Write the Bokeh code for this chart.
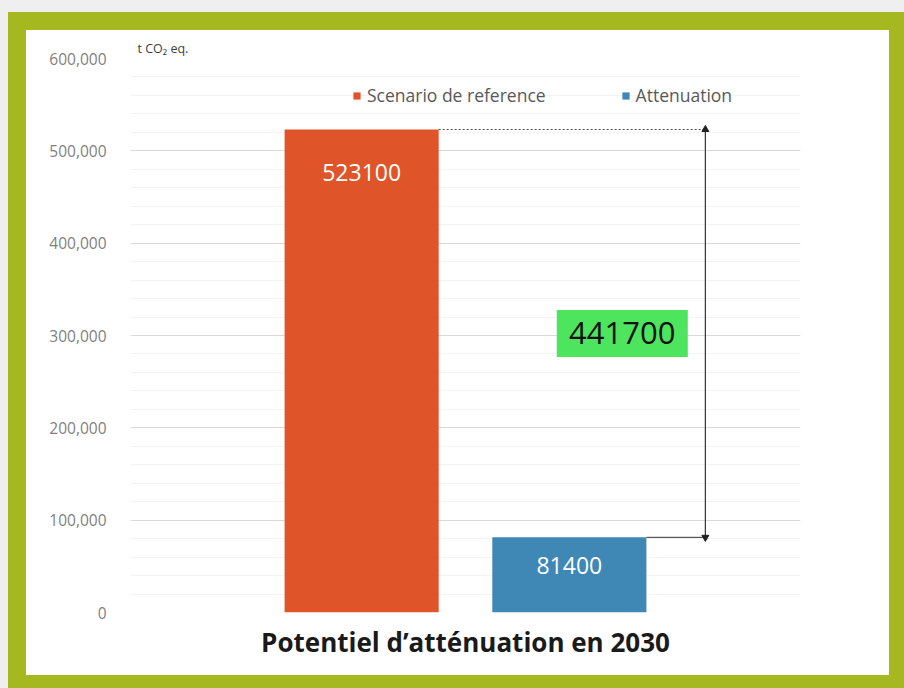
from bokeh.plotting import figure
from bokeh.models import FactorRange, Range1d, SingleIntervalTicker, NumeralTickFormatter, ColumnDataSource
from bokeh.transform import dodge
from bokeh.layouts import column
from bokeh.core.properties import value
from bokeh.embed import file_html
from bokeh.resources import INLINE

# ---- data ----
category = "Potentiel d’atténuation en 2030"
series = ["Scenario de reference", "Attenuation"]
values = [523100, 81400]
unit_label = "t CO₂ eq."

# ---- style ----
colors = ["#E0542A", "#3F87B5"]
offsets = [-0.155, 0.155]
bar_width = 0.23
label_offsets = [43, 28]
FONT = "Open Sans"

p = figure(x_range=FactorRange(factors=[category]), y_range=Range1d(0, 600000),
           width=863, height=645, min_border_left=104, min_border_right=89,
           min_border_top=28, min_border_bottom=63,
           output_backend="svg", toolbar_location=None,
           border_fill_color="white", background_fill_color="white",
           outline_line_color=None)
p.styles = {"background-color": "white"}

for i, (s, v, c) in enumerate(zip(series, values, colors)):
    src = ColumnDataSource(dict(x=[category], top=[v], label=[str(v)]))
    xd = dodge("x", offsets[i], range=p.x_range)
    p.vbar(x=xd, top="top", width=bar_width, source=src, fill_color=c,
           line_color=None, legend_label=s)
    p.text(x=xd, y="top", text="label", source=src, text_color="white",
           text_align="center", text_baseline="middle", y_offset=label_offsets[i],
           text_font=value(FONT), text_font_size="23px")

# difference annotation
diff = values[0] - values[1]
ann = ColumnDataSource(dict(x=[category], top=[values[0]], bottom=[values[1]],
                            mid=[(values[0] + values[1]) / 2], label=[str(diff)]))
arrow_x = 0.358
p.segment(x0=dodge("x", offsets[0] + bar_width / 2, range=p.x_range), y0="top",
          x1=dodge("x", arrow_x, range=p.x_range), y1="top", source=ann,
          line_color="#555555", line_dash="2 2", line_width=1)
p.segment(x0=dodge("x", offsets[1] + bar_width / 2, range=p.x_range), y0="bottom",
          x1=dodge("x", arrow_x, range=p.x_range), y1="bottom", source=ann,
          line_color="#333333", line_width=1)
p.segment(x0=dodge("x", arrow_x, range=p.x_range), y0="bottom",
          x1=dodge("x", arrow_x, range=p.x_range), y1="top", source=ann,
          line_color="#333333", line_width=1.2)
p.scatter(x=dodge("x", arrow_x, range=p.x_range), y="top", source=ann,
          marker="triangle", size=7, color="#222222")
p.scatter(x=dodge("x", arrow_x, range=p.x_range), y="bottom", source=ann,
          marker="inverted_triangle", size=7, color="#222222")
p.rect(x=dodge("x", 0.234, range=p.x_range), y="mid", width=131, height=47,
       width_units="screen", height_units="screen", source=ann,
       fill_color="#4DE45E", line_color=None)
p.text(x=dodge("x", 0.234, range=p.x_range), y="mid", text="label", source=ann,
       text_color="#111111", text_align="center", text_baseline="middle",
       text_font=value(FONT), text_font_size="31px")

# axes
p.yaxis.ticker = SingleIntervalTicker(interval=100000, num_minor_ticks=5)
p.yaxis.formatter = NumeralTickFormatter(format="0,0")
p.yaxis.axis_line_color = None
p.yaxis.major_tick_line_color = None
p.yaxis.minor_tick_line_color = None
p.yaxis.major_label_text_color = "#7f7f7f"
p.yaxis.major_label_text_font = FONT
p.yaxis.major_label_text_font_size = "15.5px"
p.yaxis.major_label_standoff = 18

p.xaxis.axis_line_color = None
p.xaxis.major_tick_line_color = None
p.xaxis.major_label_text_font = FONT
p.xaxis.major_label_text_font_size = "26px"
p.xaxis.major_label_text_font_style = "bold"
p.xaxis.major_label_text_color = "#1a1a1a"
p.xaxis.major_label_standoff = 5

p.xgrid.grid_line_color = None
p.ygrid.grid_line_color = "#d9d9d9"
p.ygrid.minor_grid_line_color = "#f3f3f3"

p.title.text = unit_label
p.title.text_font = FONT
p.title.text_font_size = "12.5px"
p.title.text_font_style = "normal"
p.title.text_color = "#404040"
p.title.align = "left"
p.title.offset = 7
p.title.standoff = 3

lg = p.legend[0]
lg.orientation = "horizontal"
lg.location = (222, 505)
lg.label_text_font = FONT
lg.label_text_font_size = "17.5px"
lg.label_text_color = "#595959"
lg.border_line_color = None
lg.background_fill_alpha = 0
lg.glyph_width = 9
lg.glyph_height = 9
lg.spacing = 75
lg.padding = 0
lg.margin = 0
lg.label_standoff = 6

p.margin = (18, 15, 13, 18)
green = column(p, styles={"background-color": "#A5B820"})
green.margin = (12, 0, 0, 8)
outer = column(green, styles={"background-color": "#EFEFEF"})

open("out.html", "w").write(file_html(outer, INLINE))
